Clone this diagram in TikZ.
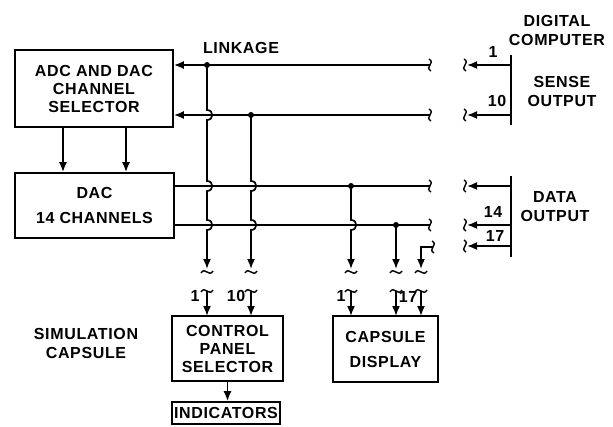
\documentclass[tikz,border=0pt]{standalone}
\usepackage{fontspec}
\setmainfont{Liberation Sans}[LetterSpace=4]
\usetikzlibrary{arrows.meta}
\begin{document}
\begin{tikzpicture}[x=1pt,y=-1pt, line width=1.7pt,
  box/.style={draw, rectangle, inner sep=0pt, align=center, font=\fontsize{16}{18}\selectfont\bfseries},
  lab/.style={font=\fontsize{16}{19}\selectfont\bfseries, align=center, inner sep=0pt},
  arr/.style={-{Latex[length=10pt,width=8pt]}},
  dot/.style={circle, fill, inner sep=0pt, minimum size=6pt},
  vsq/.pic={\draw[line width=1.4pt] (-1,-6) .. controls (6,-2) and (-6,2) .. (1,6);},
  hsq/.pic={\draw[line width=1.4pt] (-6,1) .. controls (-2,-6) and (2,6) .. (6,-1);}
]
\useasboundingbox (0,0) rectangle (613,426);
% boxes
\node[box, minimum width=158pt, minimum height=77pt] (adc) at (94,88.5) {ADC AND DAC\\CHANNEL\\SELECTOR};
\node[box, minimum width=159pt, minimum height=65pt] (dac) at (94.5,205.5) {DAC\\[7pt]14 CHANNELS};
\node[box, minimum width=111pt, minimum height=65pt] (cps) at (227.5,348.5) {CONTROL\\PANEL\\SELECTOR};
\node[box, minimum width=105pt, minimum height=66pt] (cd) at (385.5,349) {CAPSULE\\[7pt]DISPLAY};
\node[box, minimum width=108pt, minimum height=22pt] (ind) at (226,413) {INDICATORS};
% labels
\node[lab] (lk) at (241,48) {LINKAGE};
\node[lab] (dc) at (557,30) {DIGITAL\\COMPUTER};
\node[lab] (so) at (562,91) {SENSE\\OUTPUT};
\node[lab] (do) at (555,207) {DATA\\OUTPUT};
\node[lab] (sc) at (86,343) {SIMULATION\\CAPSULE};
% arrows between boxes
\draw[arr] (63,127) coordinate (a1) -- (a1 |- dac.north);
\draw[arr] (126,127) coordinate (a2) -- (a2 |- dac.north);
\draw[arr] (cps.south) -- (cps.south |- ind.north);
% line ends
\coordinate (e1) at (430,65);
\coordinate (e2) at (430,115);
\coordinate (e3) at (430,186);
\coordinate (e4) at (430,225);
\coordinate (e5) at (433,247);
\draw[arr] (e1) -- (adc.east |- e1);
\draw[arr] (e2) -- (adc.east |- e2);
\draw (dac.east |- e3) -- (e3);
\draw (dac.east |- e4) -- (e4);
\foreach \c in {e1,e2,e3,e4,e5} \pic at (\c) {vsq};
% dots
\node[dot] (d1) at (207,65) {};
\node[dot] (d2) at (251,115) {};
\node[dot] (d3) at (351,186) {};
\node[dot] (d4) at (396,225) {};
% verticals with hops
\draw[arr] (d1.center) -- (207,110) .. controls (214,110) and (214,120) .. (207,120)
  -- (207,181) .. controls (214,181) and (214,191) .. (207,191)
  -- (207,220) .. controls (214,220) and (214,230) .. (207,230) -- (207,269);
\draw[arr] (d2.center) -- (251,181) .. controls (258,181) and (258,191) .. (251,191)
  -- (251,220) .. controls (258,220) and (258,230) .. (251,230) -- (251,269);
\draw[arr] (d3.center) -- (351,220) .. controls (358,220) and (358,230) .. (351,230) -- (351,269);
\draw[arr] (d4.center) -- (396,269);
\draw[arr] (e5) -- (421,247) -- (421,269);
\foreach \x in {207,251,351,396,421} {
  \pic at (\x,272) {hsq};
  \pic at (\x,291) {hsq};
}
\draw[arr] (207,291) -- (207,316);
\draw[arr] (251,291) -- (251,316);
\draw[arr] (351,291) -- (351,316);
\draw[arr] (396,291) -- (396,316);
\draw[arr] (421,291) -- (421,316);
\node[lab] at (195,296) {1};
\node[lab] at (236,296) {10};
\node[lab] at (341,296) {1};
\node[lab] at (408,297) {17};
% computer side
\coordinate (s1) at (511,55);
\coordinate (s2) at (511,125);
\coordinate (t1) at (511,176);
\coordinate (t2) at (511,257);
\draw (s1) -- (s2);
\draw (t1) -- (t2);
\foreach \y in {65,115,186,225,246} {
  \pic at (465,\y) {vsq};
  \draw[arr] (511,\y) -- (467,\y);
}
\node[lab] at (493,52) {1};
\node[lab] at (497,101) {10};
\node[lab] at (493,212) {14};
\node[lab] at (495,236) {17};
\end{tikzpicture}
\end{document}
